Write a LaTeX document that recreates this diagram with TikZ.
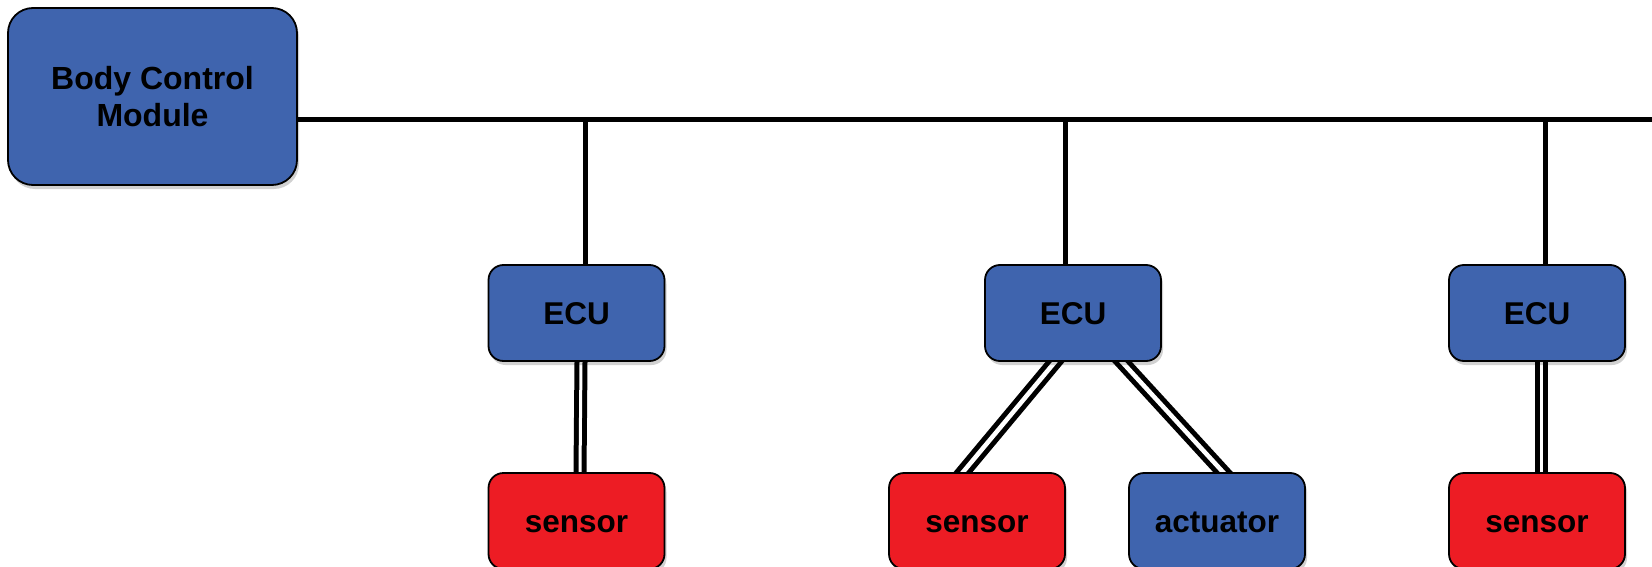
\documentclass[tikz,border=0pt]{standalone}
\usepackage{fontspec}
\setmainfont{Liberation Sans}
\usetikzlibrary{shadows,backgrounds}
\definecolor{boxblue}{RGB}{63,100,174}
\definecolor{boxred}{RGB}{237,28,36}
\tikzset{
  unit/.style={draw=black, line width=1.8pt, rounded corners=15pt,
    minimum width=176pt, minimum height=96pt, inner sep=0pt,
    font=\fontsize{31.5}{37}\selectfont\bfseries, text height=22pt, text depth=0pt,
    drop shadow={shadow xshift=2pt, shadow yshift=-4pt, opacity=0.18, fill=black}},
  bluebox/.style={unit, fill=boxblue},
  redbox/.style={unit, fill=boxred},
  bcmbox/.style={draw=black, line width=1.8pt, rounded corners=25pt, fill=boxblue,
    minimum width=289pt, minimum height=177pt, inner sep=0pt, align=center,
    font=\fontsize{32}{37}\selectfont\bfseries,
    drop shadow={shadow xshift=2pt, shadow yshift=-4pt, opacity=0.18, fill=black}},
  bus/.style={line width=5pt, black},
  link/.style={double=white, double distance=3pt, line width=5pt, draw=black},
  slantlink/.style={double=white, double distance=4.5pt, line width=5pt, draw=black,
    shorten <=-9pt, shorten >=-9pt},
}
\begin{document}
\begin{tikzpicture}[x=1pt, y=-1pt]
\useasboundingbox (0,0) rectangle (1652,567);
\node[bcmbox] (bcm) at (152.5,96.5) {Body Control\\Module};
\node[bluebox] (e1) at (576.5,313) {ECU};
\node[bluebox] (e2) at (1073,313) {ECU};
\node[bluebox] (e3) at (1537,313) {ECU};
\node[redbox] (s1) at (576.5,521) {sensor};
\node[redbox] (s2) at (977,521) {sensor};
\node[bluebox] (a2) at (1217,521) {actuator};
\node[redbox] (s3) at (1537,521) {sensor};
\coordinate (busR) at (1652,120);
\coordinate (t1) at (585,120);
\coordinate (t2) at (1065,120);
\coordinate (t3) at (1545,120);
\begin{scope}[on background layer]
\draw[bus] (bcm.east |- busR) -- (busR);
\draw[bus] (t1) -- (t1 |- e1.north);
\draw[bus] (t2) -- (t2 |- e2.north);
\draw[bus] (t3) -- (t3 |- e3.north);
\draw[link] ([xshift=4.5pt]e1.south) -- ([xshift=3.5pt]s1.north);
\draw[slantlink] ([xshift=-18pt]e2.south) -- ([xshift=-14pt]s2.north);
\draw[slantlink] ([xshift=49pt]e2.south) -- ([xshift=6pt]a2.north);
\draw[link] ([xshift=4pt]e3.south) -- ([xshift=4pt]s3.north);
\end{scope}
\end{tikzpicture}
\end{document}
